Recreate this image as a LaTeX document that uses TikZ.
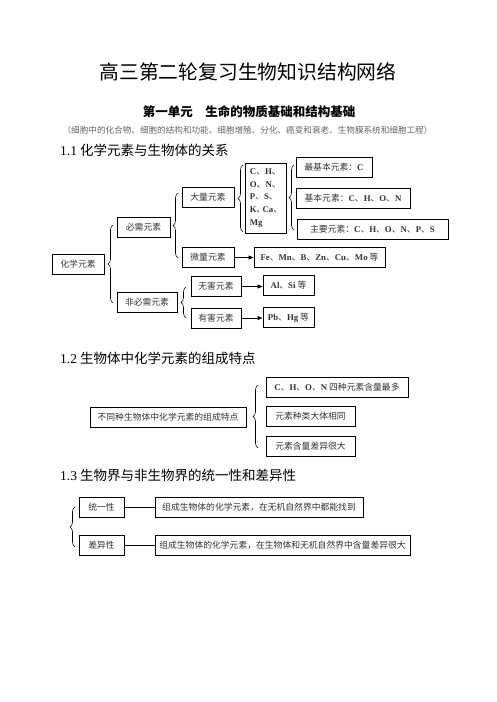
\documentclass[tikz,border=0pt]{standalone}
\usepackage{fontspec}
\setmainfont{Noto Sans CJK SC}
\newfontfamily\latin{Liberation Serif}
\usetikzlibrary{decorations.pathreplacing,arrows.meta}
\tikzset{
elembox/.style={draw, line width=0.9pt, inner sep=0pt, text=black!80,
    font=\fontsize{8.8}{10}\selectfont, minimum height=20},
curly/.style={decorate, decoration={brace, amplitude=5pt}, line width=0.6pt},
arr/.style={-{Triangle[length=5pt,width=4pt]}, line width=0.8pt},
sect/.style={anchor=west, inner sep=0pt, font=\fontsize{13.5}{15}\selectfont}
}
\newcommand{\el}[1]{{\latin\bfseries #1}}

\begin{document}
\begin{tikzpicture}[x=1pt, y=-1pt]
	\useasboundingbox (0,0) rectangle (496,702);
	\node[font=\fontsize{19.8}{22}\selectfont] (title) at (248,71.5) {高三第二轮复习生物知识结构网络};
	\node[font=\fontsize{12.5}{14}\selectfont\bfseries] (unit) at (249,111.5) {第一单元\hspace{1em}生命的物质基础和结构基础};
	\node[font=\fontsize{8.6}{10}\selectfont, text=black!60] (topics) at (247.5,130.5)
		{（细胞中的化合物、细胞的结构和功能、细胞增殖、分化、癌变和衰老、生物膜系统和细胞工程）};

	\node[sect] (s1) at (60,150) {{\latin 1.1} 化学元素与生物体的关系};
	\node[elembox, minimum width=52] (chem) at (78,264) {化学元素};
	\node[elembox, minimum width=53] (need) at (143.5,227.5) {必需元素};
	\node[elembox, minimum width=60] (noneed) at (147,302) {非必需元素};
	\node[elembox, minimum width=52] (macro) at (208,197) {大量元素};
	\node[elembox, minimum width=52] (micro) at (208,257.5) {微量元素};
	\node[elembox, minimum width=50] (harmless) at (216,286.5) {无害元素};
	\node[elembox, minimum width=50] (harmful) at (216,318) {有害元素};
	\node[elembox, minimum width=38, minimum height=70, inner xsep=4pt, align=left, font=\fontsize{8.8}{12.7}\selectfont]
		(clist) at (266,198) {\el{C}、\el{H}、\\\el{O}、\el{N}、\\\el{P}、\el{S}、\\\el{K}、\hspace{-3pt}\el{Ca}、\\\el{Mg}};
	\node[elembox, minimum width=76] (basic0) at (334,167) {最基本元素：\el{C}};
	\node[elembox, minimum width=114] (basic) at (353,198) {基本元素：\el{C}、\el{H}、\el{O}、\el{N}};
	\node[elembox, minimum width=151] (major) at (372.5,229) {主要元素：\el{C}、\el{H}、\el{O}、\el{N}、\el{P}、\el{S}};
	\node[elembox, minimum width=131] (fe) at (319.5,257) {\el{Fe}、\el{Mn}、\el{B}、\el{Zn}、\el{Cu}、\el{Mo} 等};
	\node[elembox, minimum width=51] (al) at (288.5,285.5) {\el{Al}、\el{Si} 等};
	\node[elembox, minimum width=51] (pb) at (288.5,317.5) {\el{Pb}、\el{Hg} 等};
	\draw[curly] (113,303) -- (113,225);
	\draw[curly] (178,258) -- (178,193);
	\draw[curly] (186,318) -- (186,287);
	\draw[curly] (243,232) -- (243,165);
	\draw[curly] (294,230) -- (294,165);
	\draw[arr] (micro.east) -- (micro.east -| fe.west);
	\draw[arr] (harmless.east) -- (harmless.east -| al.west);
	\draw[arr] (harmful.east) -- (harmful.east -| pb.west);

	\node[sect] (s2) at (60,358) {{\latin 1.2} 生物体中化学元素的组成特点};
	\node[elembox, minimum width=156] (trait) at (168,417.5) {不同种生物体中化学元素的组成特点};
	\node[elembox, minimum width=142] (most) at (337,387) {\el{C}、\el{H}、\el{O}、\el{N} 四种元素含量最多};
	\node[elembox, minimum width=89] (same) at (310.5,416.5) {元素种类大体相同};
	\node[elembox, minimum width=89] (diff) at (310.5,446) {元素含量差异很大};
	\draw[curly] (258,448) -- (258,385);

	\node[sect] (s3) at (60,475) {{\latin 1.3} 生物界与非生物界的统一性和差异性};
	\node[elembox, minimum width=45] (unity) at (101.5,507.5) {统一性};
	\node[elembox, minimum width=45] (variety) at (101.5,545.5) {差异性};
	\node[elembox, minimum width=208] (unitytxt) at (259,507.5) {组成生物体的化学元素，在无机自然界中都能找到};
	\node[elembox, minimum width=255] (varietytxt) at (282.5,545.5) {组成生物体的化学元素，在生物体和无机自然界中含量差异很大};
	\draw[curly] (75,547) -- (75,507);
	\draw[line width=0.8pt] (unity) -- (unitytxt);
	\draw[line width=0.8pt] (variety) -- (varietytxt);
\end{tikzpicture}
\end{document}
